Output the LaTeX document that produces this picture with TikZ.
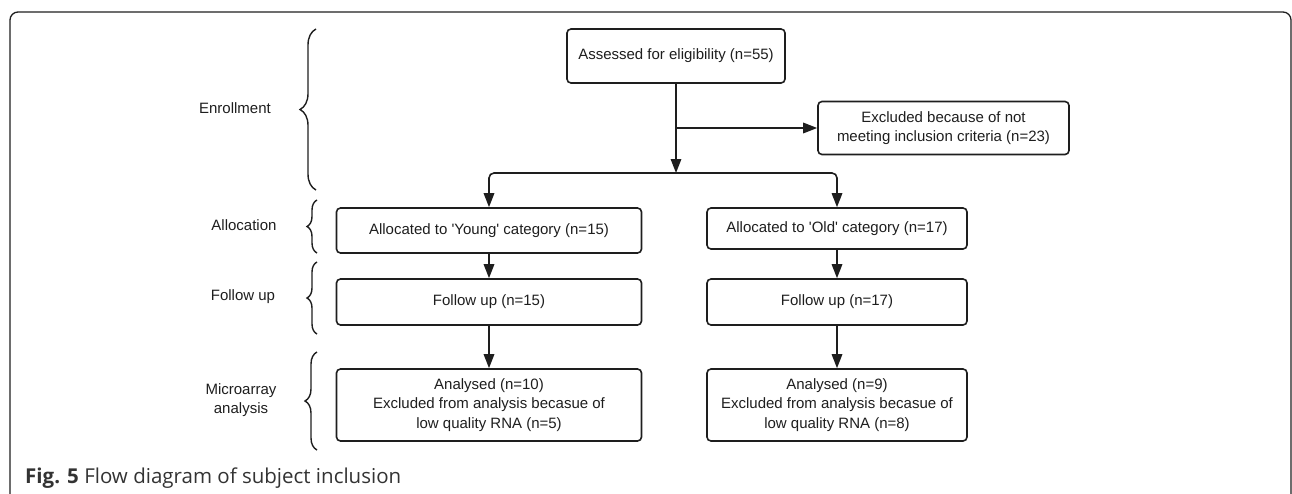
\documentclass[tikz,border=0pt]{standalone}
\usepackage{fontspec}
\setmainfont{Liberation Sans}
\newfontfamily\capfont{Open Sans}
\usetikzlibrary{arrows.meta,decorations.pathreplacing}
\definecolor{inkgray}{HTML}{1E1E1E}
\definecolor{capgray}{HTML}{333333}

\begin{document}
\begin{tikzpicture}[
x=1pt, y=-1pt,
font=\fontsize{15}{19.5}\selectfont,
flowbox/.style={draw=inkgray, line width=1.6pt, rounded corners=4pt, align=center,
  text=inkgray, inner sep=0pt},
arrow/.style={-{Triangle[length=14pt,width=10.5pt]}, line width=1.6pt, inkgray},
phasebrace/.style={decorate, decoration={brace, amplitude=#1}, line width=1.4pt, inkgray},
phaselabel/.style={align=center, text=inkgray}
]
\useasboundingbox (0,0) rectangle (1292,493);
% page frame
\draw[line width=1.3pt, inkgray, rounded corners=8pt] (10,500) -- (10,12) -- (1291,12) -- (1291,500);

% phase braces and labels
\draw[phasebrace=16pt] (316,190) -- (316,29);
\draw[phasebrace=10pt] (317,253) -- (317,200);
\draw[phasebrace=10pt] (317,334) -- (317,262);
\draw[phasebrace=12pt] (317,450) -- (317,352);
\node[phaselabel] (enroll) at (235,108) {Enrollment};
\node[phaselabel] (alloc) at (244,225) {Allocation};
\node[phaselabel] (follow) at (243,297) {Follow up};
\node[phaselabel] (micro) at (241,400) {Microarray\\analysis};

% boxes
\node[flowbox, minimum width=218pt, minimum height=54pt] (assess) at (676,56)
  {Assessed for eligibility (n=55)};
\node[flowbox, minimum width=251pt, minimum height=53pt] (excl) at (943.5,128)
  {Excluded because of not\\meeting inclusion criteria (n=23)};
\node[flowbox, minimum width=305pt, minimum height=45pt] (allocY) at (489,230.5)
  {Allocated to \textquotesingle Young\textquotesingle{} category (n=15)};
\node[flowbox, minimum width=260pt, minimum height=41pt] (allocO) at (837,228.5)
  {Allocated to \textquotesingle Old\textquotesingle{} category (n=17)};
\node[flowbox, minimum width=305pt, minimum height=46pt] (followY) at (489,302)
  {Follow up (n=15)};
\node[flowbox, minimum width=260pt, minimum height=46pt] (followO) at (837,302)
  {Follow up (n=17)};
\node[flowbox, minimum width=305pt, minimum height=72pt] (anaY) at (489,405)
  {Analysed (n=10)\\Excluded from analysis becasue of\\low quality RNA (n=5)};
\node[flowbox, minimum width=260pt, minimum height=72pt] (anaO) at (837,405)
  {Analysed (n=9)\\Excluded from analysis becasue of\\low quality RNA (n=8)};

% connectors
\coordinate (split) at (676,173);
\draw[arrow] (assess) -- (split);
\draw[arrow] (assess.south |- excl.west) -- (excl.west);
\draw[arrow, rounded corners=5pt] (split) -| (allocY);
\draw[arrow, rounded corners=5pt] (split) -| (allocO);
\draw[arrow] (allocY) -- (followY);
\draw[arrow] (allocO) -- (followO);
\draw[arrow] (followY) -- (anaY);
\draw[arrow] (followO) -- (anaO);

% caption
\node[anchor=base west, inner sep=0pt, text=capgray, font=\capfont\fontsize{20.5}{24}\selectfont] (caption) at (25,483)
  {\textbf{Fig. 5} Flow diagram of subject inclusion};
\end{tikzpicture}
\end{document}
